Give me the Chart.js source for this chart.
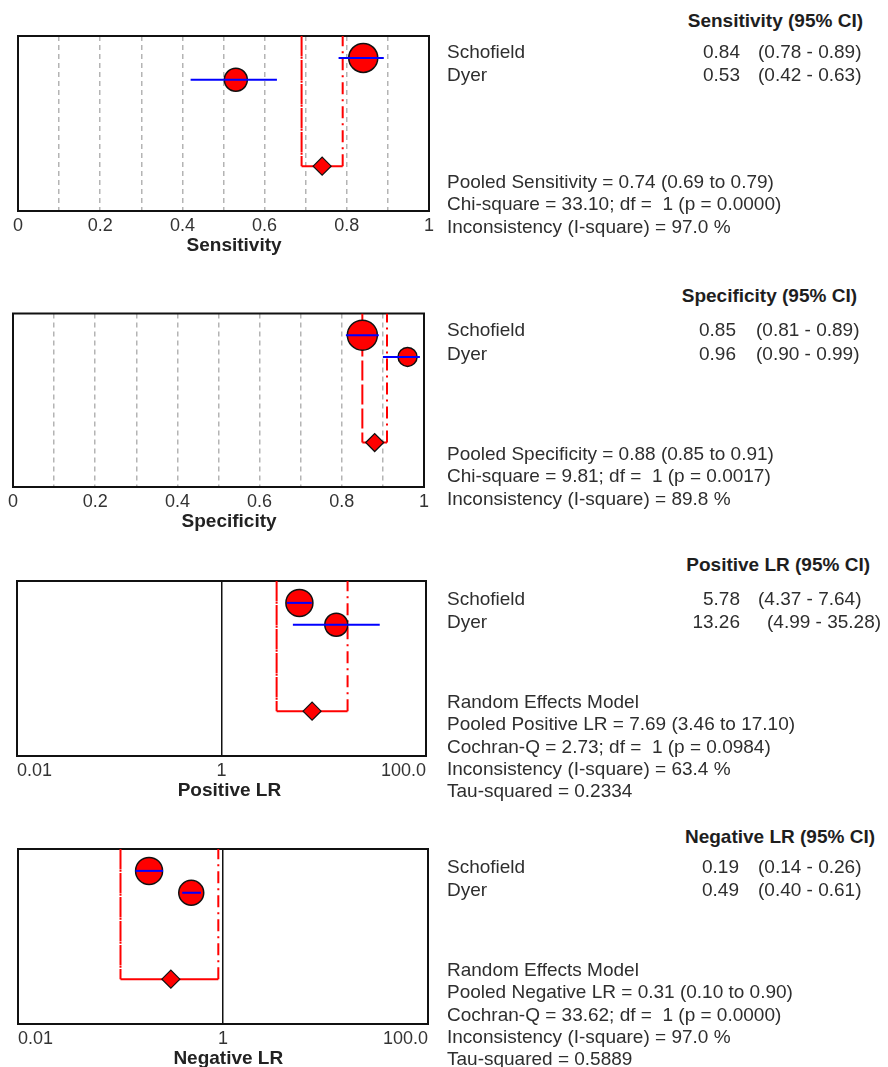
<!DOCTYPE html>
<html lang="en">
<head>
    <meta charset="UTF-8">
    <title>Forest plots - Schofield / Dyer</title>
    <script src="https://cdn.jsdelivr.net/npm/chart.js"></script>
    <style>
        body {
            margin: 0;
            background: #fff;
            font-family: 'Liberation Sans', Arial, sans-serif;
        }
        #page {
            position: relative;
            width: 888px;
            height: 1067px;
            overflow: hidden;
        }
        .plot {
            position: absolute;
            left: -20px;
        }
        .txt {
            position: absolute;
            font-size: 19px;
            line-height: 22px;
            color: #2e2e2e;
            white-space: pre;
        }
        .hdr {
            font-weight: bold;
            color: #1e1e1e;
            text-align: right;
        }
    </style>
</head>
<body>
<div id="page"></div>

<script>
    // ---- data ----
    const studies = ['Schofield', 'Dyer'];

    const sensValues = [0.84, 0.53];
    const sensLow = [0.78, 0.42];
    const sensHigh = [0.89, 0.63];
    const sensPooled = [0.74, 0.69, 0.79];   // estimate, low, high

    const specValues = [0.85, 0.96];
    const specLow = [0.81, 0.90];
    const specHigh = [0.89, 0.99];
    const specPooled = [0.88, 0.85, 0.91];

    const plrValues = [5.78, 13.26];
    const plrLow = [4.37, 4.99];
    const plrHigh = [7.64, 35.28];
    const plrPooled = [7.69, 3.46, 17.10];

    const nlrValues = [0.19, 0.49];
    const nlrLow = [0.14, 0.40];
    const nlrHigh = [0.26, 0.61];
    const nlrPooled = [0.31, 0.10, 0.90];

    const propTicks = [0, 0.2, 0.4, 0.6, 0.8, 1];
    const propTickLabels = ['0', '0.2', '0.4', '0.6', '0.8', '1'];
    const lrTicks = [0.01, 1, 100];
    const lrTickLabels = ['0.01', '1', '100.0'];

    const sensStats = [
        'Pooled Sensitivity = 0.74 (0.69 to 0.79)',
        'Chi-square = 33.10; df =  1 (p = 0.0000)',
        'Inconsistency (I-square) = 97.0 %'
    ];
    const specStats = [
        'Pooled Specificity = 0.88 (0.85 to 0.91)',
        'Chi-square = 9.81; df =  1 (p = 0.0017)',
        'Inconsistency (I-square) = 89.8 %'
    ];
    const plrStats = [
        'Random Effects Model',
        'Pooled Positive LR = 7.69 (3.46 to 17.10)',
        'Cochran-Q = 2.73; df =  1 (p = 0.0984)',
        'Inconsistency (I-square) = 63.4 %',
        'Tau-squared = 0.2334'
    ];
    const nlrStats = [
        'Random Effects Model',
        'Pooled Negative LR = 0.31 (0.10 to 0.90)',
        'Cochran-Q = 33.62; df =  1 (p = 0.0000)',
        'Inconsistency (I-square) = 97.0 %',
        'Tau-squared = 0.5889'
    ];

    // ---- layout / style ----
    const FONT = "'Liberation Sans', Arial, sans-serif";
    const studyRows = [1, 2];
    const pooledRow = 5.95;
    const CANVAS_W = 480;   // canvas starts at x = -20
    const AXIS_H = 48;

    const panels = [
        {
            title: 'Sensitivity', titleIndent: 4, header: 'Sensitivity (95% CI)', log: false,
            values: sensValues, low: sensLow, high: sensHigh, pooled: sensPooled, stats: sensStats,
            radius: [14.5, 11.5],
            box: { left: 18, top: 29, right: 429, bottom: 211 },
            hdrRight: 863, hdrTop: 10, rowTops: [41, 64], valRight: 740, ciLeft: [758, 758], statsTop: 171
        },
        {
            title: 'Specificity', titleIndent: 4, header: 'Specificity (95% CI)', log: false,
            values: specValues, low: specLow, high: specHigh, pooled: specPooled, stats: specStats,
            radius: [15, 9.5],
            box: { left: 13, top: 306, right: 424, bottom: 487 },
            hdrRight: 857, hdrTop: 285, rowTops: [319, 343], valRight: 736, ciLeft: [756, 756], statsTop: 443
        },
        {
            title: 'Positive LR', titleIndent: 3, header: 'Positive LR (95% CI)', log: true,
            values: plrValues, low: plrLow, high: plrHigh, pooled: plrPooled, stats: plrStats,
            radius: [13.5, 11.5],
            box: { left: 17, top: 575, right: 426, bottom: 756 },
            hdrRight: 870, hdrTop: 554, rowTops: [588, 611], valRight: 740, ciLeft: [758, 767], statsTop: 691
        },
        {
            title: 'Negative LR', titleIndent: 2, header: 'Negative LR (95% CI)', log: true,
            values: nlrValues, low: nlrLow, high: nlrHigh, pooled: nlrPooled, stats: nlrStats,
            radius: [13.5, 12.5],
            box: { left: 18, top: 843, right: 428, bottom: 1024 },
            hdrRight: 875, hdrTop: 826, rowTops: [856, 879], valRight: 739, ciLeft: [758, 758], statsTop: 959
        }
    ];

    const page = document.getElementById('page');

    function addText(text, css, cls) {
        const d = document.createElement('div');
        d.className = 'txt' + (cls ? ' ' + cls : '');
        d.textContent = text;
        Object.assign(d.style, css);
        page.appendChild(d);
        return d;
    }

    // black frame round the plot area
    const framePlugin = {
        id: 'frame',
        beforeDatasetsDraw(chart) {
            const a = chart.chartArea;
            const c = chart.ctx;
            c.save();
            c.strokeStyle = '#111';
            c.lineWidth = 2;
            c.strokeRect(a.left, a.top, a.right - a.left, a.bottom - a.top);
            c.restore();
        }
    };

    function buildChart(p) {
        const canvasTop = p.box.top - 9;
        const canvas = document.createElement('canvas');
        canvas.className = 'plot';
        canvas.width = CANVAS_W;
        canvas.height = p.box.bottom - canvasTop + AXIS_H;
        canvas.style.top = canvasTop + 'px';
        page.appendChild(canvas);

        const datasets = [];
        // study CIs (first -> drawn on top of the markers)
        studies.forEach((s, i) => {
            datasets.push({
                type: 'line',
                data: [{ x: p.low[i], y: studyRows[i] }, { x: p.high[i], y: studyRows[i] }],
                borderColor: '#0000ff',
                borderWidth: 2,
                pointRadius: 0
            });
        });
        // study point estimates
        datasets.push({
            type: 'scatter',
            data: p.values.map((v, i) => ({ x: v, y: studyRows[i] })),
            pointStyle: 'circle',
            pointRadius: p.radius,
            backgroundColor: '#ff0000',
            borderColor: '#111',
            borderWidth: 1.5
        });
        // pooled estimate
        datasets.push({
            type: 'scatter',
            data: [{ x: p.pooled[0], y: pooledRow }],
            pointStyle: 'rectRot',
            pointRadius: 9,
            backgroundColor: '#ff0000',
            borderColor: '#111',
            borderWidth: 1.2
        });
        // pooled CI bracket
        datasets.push({
            type: 'line',
            data: [
                { x: p.pooled[1], y: 0 }, { x: p.pooled[1], y: pooledRow },
                { x: p.pooled[2], y: pooledRow }, { x: p.pooled[2], y: 0 }
            ],
            borderColor: '#ff0000',
            borderWidth: 2,
            pointRadius: 0,
            tension: 0,
            segment: {
                borderDash: ctx => ctx.p0.parsed.x === ctx.p1.parsed.x ? [12, 5, 2, 5] : []
            }
        });

        const xScale = p.log ? {
            type: 'logarithmic',
            min: 0.01,
            max: 100,
            afterBuildTicks: sc => { sc.ticks = lrTicks.map(v => ({ value: v })); },
            ticks: {
                autoSkip: false, maxRotation: 0, padding: 4, color: '#333', align: 'inner',
                font: { family: FONT, size: 18 },
                callback: (v, i) => lrTickLabels[i]
            },
            grid: {
                drawTicks: false,
                lineWidth: 1.5,
                color: ctx => (ctx.tick && ctx.tick.value === 1) ? '#111' : 'rgba(0,0,0,0)'
            },
            border: { display: false }
        } : {
            type: 'linear',
            min: 0,
            max: 1,
            ticks: {
                stepSize: 0.1, autoSkip: false, maxRotation: 0, padding: 4, color: '#333',
                font: { family: FONT, size: 18 },
                callback: v => {
                    const k = propTicks.findIndex(t => Math.abs(t - v) < 1e-6);
                    return k >= 0 ? propTickLabels[k] : '';
                }
            },
            grid: {
                drawTicks: false,
                lineWidth: 1.5,
                color: ctx => {
                    const v = ctx.tick ? ctx.tick.value : 0;
                    return (v < 0.01 || v > 0.99) ? 'rgba(0,0,0,0)' : '#b4b4b4';
                }
            },
            border: { display: false, dash: [5, 4] }
        };
        xScale.afterFit = sc => { sc.height = AXIS_H; };
        xScale.title = {
            display: true,
            // leading spaces push the centred title a little right, as in the original
            text: ' '.repeat(p.titleIndent) + p.title,
            color: '#222',
            font: { family: FONT, size: 19, weight: 'bold' },
            padding: { top: 0, bottom: 2 }
        };

        new Chart(canvas, {
            data: { datasets: datasets },
            options: {
                responsive: false,
                animation: false,
                devicePixelRatio: 1,
                layout: {
                    padding: {
                        left: p.box.left + 20,
                        right: CANVAS_W - 20 - p.box.right,
                        top: 9,
                        bottom: 0
                    }
                },
                plugins: { legend: { display: false }, tooltip: { enabled: false } },
                scales: {
                    x: xScale,
                    y: { type: 'linear', min: 0, max: 8, reverse: true, display: false }
                }
            },
            plugins: [framePlugin]
        });
    }

    function buildText(p) {
        addText(p.header, { right: (888 - p.hdrRight) + 'px', top: p.hdrTop + 'px' }, 'hdr');
        studies.forEach((s, i) => {
            const top = p.rowTops[i] + 'px';
            addText(s, { left: '447px', top: top });
            addText(p.values[i].toFixed(2), { right: (888 - p.valRight) + 'px', top: top });
            addText('(' + p.low[i].toFixed(2) + ' - ' + p.high[i].toFixed(2) + ')', { left: p.ciLeft[i] + 'px', top: top });
        });
        p.stats.forEach((line, i) => {
            addText(line, { left: '447px', top: (p.statsTop + i * 22.3) + 'px' });
        });
    }

    panels.forEach(p => {
        buildChart(p);
        buildText(p);
    });
</script>
</body>
</html>
